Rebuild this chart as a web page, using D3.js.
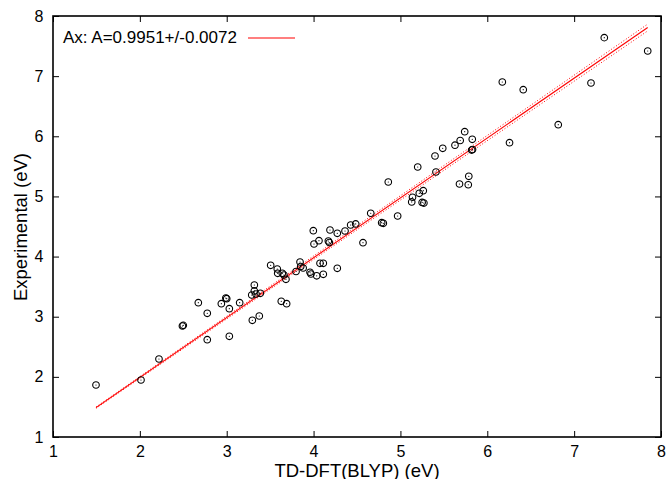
<!DOCTYPE html>
<html>
<head>
<meta charset="utf-8">
<script src="https://cdn.jsdelivr.net/npm/d3@7"></script>
<style>
  body { margin: 0; background: #fff; }
  text { font-family: "Liberation Sans", Arial, sans-serif; fill: #000; }
</style>
</head>
<body>
<svg id="chart" width="669" height="479"></svg>
<script>
const calc = [1.495, 2.013, 2.220, 2.49, 2.50, 2.776, 3.030, 2.776, 2.673, 2.938,
  2.99, 3.00, 3.030, 3.149, 3.295, 3.375, 3.318, 3.318, 3.288, 3.337,
  3.387, 3.628, 3.690, 3.506, 3.582, 3.587, 3.640, 3.659, 3.682, 3.798,
  3.844, 3.852, 3.88, 3.959, 3.970, 4.036, 4.074, 4.112, 4.112, 4.273,
  4.005, 4.062, 4.170, 4.181, 3.997, 4.189, 4.273, 4.362, 4.427, 4.485,
  4.569, 4.658, 4.784, 4.803, 4.968, 4.860, 5.130, 5.139, 5.217, 5.263,
  5.25, 5.27, 5.199, 5.409, 5.398, 5.487, 5.628, 5.688, 5.740, 5.827,
  5.82, 5.83, 5.680, 5.781, 5.787, 6.256, 6.173, 6.414, 6.817, 7.194,
  7.347, 7.847];
const expt = [1.865, 1.948, 2.297, 2.846, 2.856, 2.618, 2.674, 3.057, 3.233, 3.216,
  3.31, 3.30, 3.133, 3.233, 2.940, 3.012, 3.527, 3.428, 3.361, 3.378,
  3.389, 3.256, 3.216, 3.855, 3.793, 3.722, 3.722, 3.694, 3.622, 3.752,
  3.910, 3.835, 3.81, 3.739, 3.710, 3.680, 3.888, 3.888, 3.705, 3.805,
  4.209, 4.264, 4.259, 4.234, 4.430, 4.442, 4.387, 4.425, 4.525, 4.542,
  4.231, 4.720, 4.563, 4.553, 4.675, 5.240, 4.908, 4.986, 5.052, 5.096,
  4.90, 4.89, 5.489, 5.406, 5.672, 5.800, 5.852, 5.930, 6.077, 5.950,
  5.77, 5.78, 5.207, 5.194, 5.335, 5.894, 6.903, 6.775, 6.193, 6.886,
  7.640, 7.418];

// fit y = A*x
const slope = 0.9951;
const slopeErr = 0.0072;
const xTicks = [1, 2, 3, 4, 5, 6, 7, 8];
const yTicks = [1, 2, 3, 4, 5, 6, 7, 8];

const svg = d3.select("#chart");
const margin = {top: 16, right: 8, bottom: 42, left: 53};
const W = 669, H = 479;

const x = d3.scaleLinear().domain([1, 8]).range([margin.left, W - margin.right]);
const y = d3.scaleLinear().domain([1, 8]).range([H - margin.bottom, margin.top]);

const tickLen = 6;
// bottom + top
svg.append("g")
  .attr("transform", `translate(0,${y(1)})`)
  .call(d3.axisBottom(x).tickValues(xTicks).tickSize(-tickLen).tickPadding(8).tickFormat(d3.format("d")))
  .call(g => g.select(".domain").remove())
  .call(g => g.selectAll("text").style("font-size", "16px").attr("dy", "0.72em"));
svg.append("g")
  .attr("transform", `translate(0,${y(8)})`)
  .call(d3.axisTop(x).tickValues(xTicks).tickSize(-tickLen).tickFormat(""))
  .call(g => g.select(".domain").remove());
// left + right
svg.append("g")
  .attr("transform", `translate(${x(1)},0)`)
  .call(d3.axisLeft(y).tickValues(yTicks).tickSize(-tickLen).tickPadding(9.5).tickFormat(d3.format("d")))
  .call(g => g.select(".domain").remove())
  .call(g => g.selectAll("text").style("font-size", "16px"));
svg.append("g")
  .attr("transform", `translate(${x(8)},0)`)
  .call(d3.axisRight(y).tickValues(yTicks).tickSize(-tickLen).tickFormat(""))
  .call(g => g.select(".domain").remove());

svg.selectAll(".tick line").attr("stroke", "#000").attr("stroke-width", 1);

// fit lines
const xr = d3.extent(calc);
const line = d3.line().x(d => x(d[0])).y(d => y(d[1]));
const fit = a => xr.map(v => [v, a * v]);

svg.append("path").datum(fit(slope + slopeErr)).attr("d", line)
  .attr("fill", "none").attr("stroke", "#f00").attr("stroke-width", 1).attr("stroke-dasharray", "1,2");
svg.append("path").datum(fit(slope - slopeErr)).attr("d", line)
  .attr("fill", "none").attr("stroke", "#f00").attr("stroke-width", 1).attr("stroke-dasharray", "1,2");
svg.append("path").datum(fit(slope)).attr("d", line)
  .attr("fill", "none").attr("stroke", "#f00").attr("stroke-width", 1.1);

// points
const pts = svg.append("g").selectAll("g")
  .data(d3.range(calc.length))
  .join("g")
  .attr("transform", i => `translate(${x(calc[i])},${y(expt[i])})`);
pts.append("circle").attr("r", 3.3).attr("fill", "none").attr("stroke", "#000").attr("stroke-width", 1.1);
pts.append("circle").attr("r", 0.6).attr("fill", "#000");

// frame
svg.append("rect")
  .attr("x", x(1)).attr("y", y(8))
  .attr("width", x(8) - x(1)).attr("height", y(1) - y(8))
  .attr("fill", "none").attr("stroke", "#000").attr("stroke-width", 1.6);

// legend
svg.append("text").attr("x", 63).attr("y", 42.5).style("font-size", "17px")
  .text(`Ax: A=${slope}+/-${slopeErr.toFixed(4)}`);
svg.append("line").attr("x1", 248).attr("x2", 295).attr("y1", 38).attr("y2", 38)
  .attr("stroke", "#f00").attr("stroke-width", 1.1);

// axis titles
svg.append("text")
  .attr("x", (x(1) + x(8)) / 2).attr("y", 476.5)
  .attr("text-anchor", "middle").style("font-size", "18.5px")
  .text("TD-DFT(BLYP) (eV)");
svg.append("text")
  .attr("transform", `translate(27,227) rotate(-90)`)
  .attr("text-anchor", "middle").style("font-size", "18.5px")
  .text("Experimental (eV)");
</script>
</body>
</html>
